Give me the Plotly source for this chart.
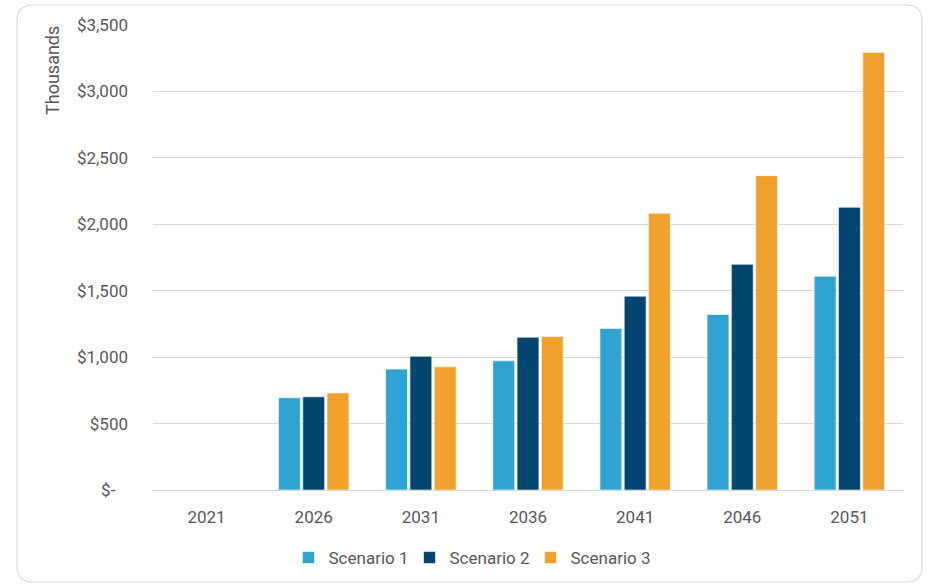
import plotly.graph_objects as go

years = ["2021", "2026", "2031", "2036", "2041", "2046", "2051"]
scenario1 = [0, 694, 910, 972, 1216, 1321, 1609]
scenario2 = [0, 701, 1007, 1150, 1459, 1699, 2128]
scenario3 = [0, 731, 927, 1155, 2083, 2366, 3294]
series_names = ["Scenario 1", "Scenario 2", "Scenario 3"]
colors = ["#2EA3CF", "#00466E", "#F0A12B"]
tick_vals = [0, 500, 1000, 1500, 2000, 2500, 3000, 3500]
tick_text = ["$-   ", "$500", "$1,000", "$1,500", "$2,000", "$2,500", "$3,000", "$3,500"]

W, H = 928, 585
L, R, T, B = 153, 25, 25, 95
pw, ph = W - L - R, H - T - B

fig = go.Figure()
for name, vals, c in zip(series_names, [scenario1, scenario2, scenario3], colors):
    fig.add_trace(go.Bar(x=years, y=vals, name=name, marker=dict(color=c, line=dict(color="rgba(255,255,255,0.6)", width=1))))

def px2x(px):
    return (px - L) / pw

def py2y(py):
    return (H - B - py) / ph

x0, x1, y0, y1, r = 17, 922, 5, 582, 16
path = (f"M {px2x(x0+r)},{py2y(y0)} L {px2x(x1-r)},{py2y(y0)} "
        f"Q {px2x(x1)},{py2y(y0)} {px2x(x1)},{py2y(y0+r)} "
        f"L {px2x(x1)},{py2y(y1-r)} Q {px2x(x1)},{py2y(y1)} {px2x(x1-r)},{py2y(y1)} "
        f"L {px2x(x0+r)},{py2y(y1)} Q {px2x(x0)},{py2y(y1)} {px2x(x0)},{py2y(y1-r)} "
        f"L {px2x(x0)},{py2y(y0+r)} Q {px2x(x0)},{py2y(y0)} {px2x(x0+r)},{py2y(y0)} Z")

fig.update_layout(
    width=W, height=H,
    margin=dict(l=L, r=R, t=T, b=B, autoexpand=False),
    paper_bgcolor="white", plot_bgcolor="white",
    font=dict(family="Roboto", color="#595959", size=17),
    barmode="group", bargap=0.32, bargroupgap=0.1,
    showlegend=True,
    legend=dict(orientation="h", x=px2x(470), xanchor="center", y=py2y(558), yanchor="middle",
                font=dict(size=17, color="#595959"), itemwidth=30, traceorder="normal",
                entrywidth=76, entrywidthmode="pixels"),
    shapes=[dict(type="path", xref="paper", yref="paper", path=path,
                 line=dict(color="#D9D9D9", width=1.2), fillcolor="rgba(0,0,0,0)", layer="below")],
    annotations=[dict(text="Thousands", textangle=-90, xref="paper", yref="paper",
                      x=px2x(53), y=py2y(71), xanchor="center", yanchor="middle",
                      showarrow=False, font=dict(size=18, color="#595959"))],
)
fig.update_xaxes(showgrid=False, showline=True, linecolor="#D9D9D9", linewidth=1,
                 ticks="", tickfont=dict(size=17), ticklabelstandoff=12)
fig.update_yaxes(range=[0, 3500], tickvals=tick_vals, ticktext=tick_text,
                 showgrid=True, gridcolor="#D9D9D9", gridwidth=1, zeroline=False,
                 showline=False, ticks="", tickfont=dict(size=17), ticklabelstandoff=24)

fig.write_html("out.html")
